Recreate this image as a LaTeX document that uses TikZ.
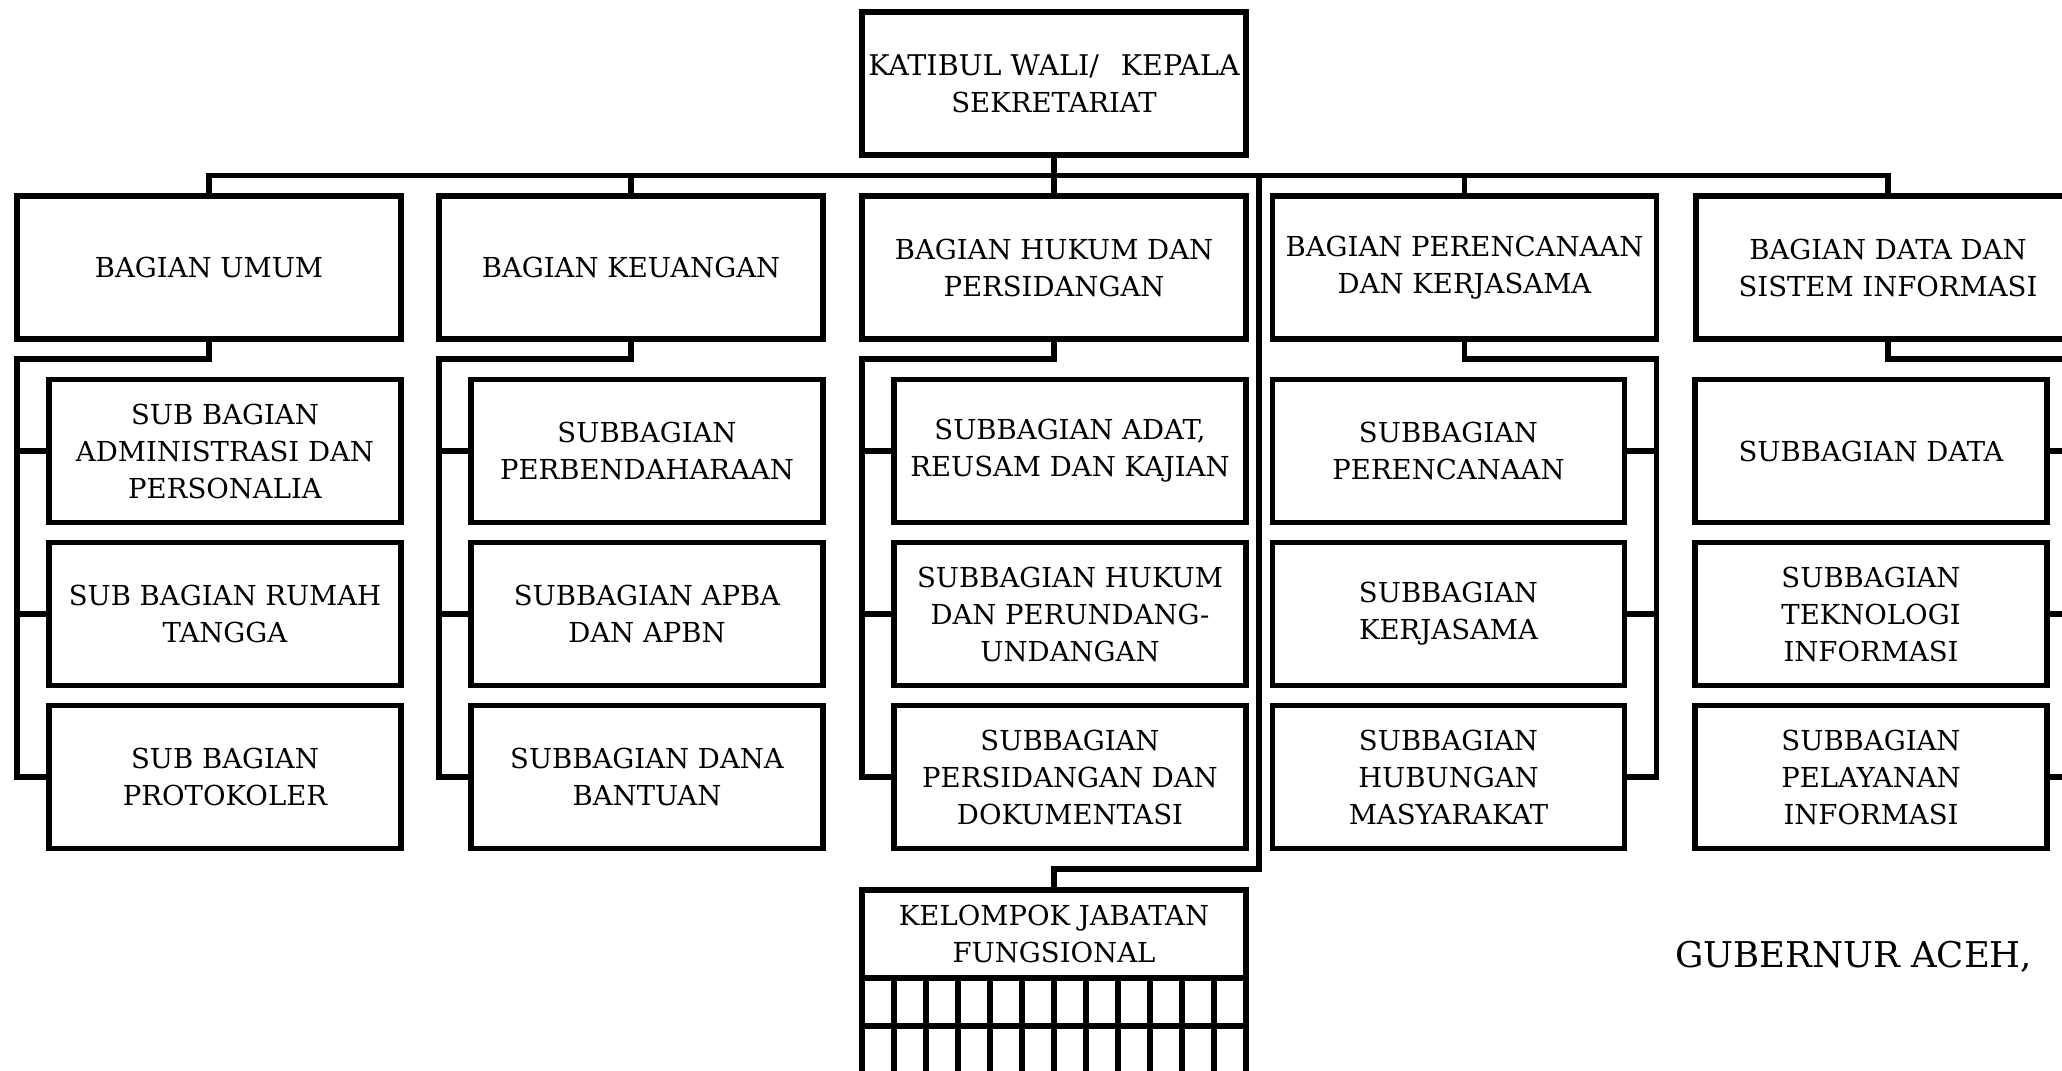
\documentclass[tikz,border=0pt]{standalone}
\usepackage{fontspec}
\setmainfont{DejaVu Serif}
\usetikzlibrary{calc}
\begin{document}
\begin{tikzpicture}[x=1pt,y=-1pt,
  ln/.style={line width=5.3pt, line join=miter},
  box/.style={draw, line width=5.3pt, align=center, inner sep=0pt, outer sep=0pt,
    font=\fontsize{27.5}{37}\selectfont},
  bagbox/.style={box, minimum width=384pt, minimum height=143pt},
  subbox/.style={box, minimum width=352pt, minimum height=142.5pt}]
\useasboundingbox (0,0) rectangle (2062,1071);
\clip (0,0) rectangle (2062,1071);

% top
\node[bagbox] (top) at (1054,83.5) {\fontsize{28.5}{38}\selectfont KATIBUL WALI/\hspace{22pt}KEPALA\\SEKRETARIAT};

% bagian
\node[bagbox] (b1) at (209,267.5) {BAGIAN UMUM};
\node[bagbox] (b2) at (631,267.5) {BAGIAN KEUANGAN};
\node[bagbox] (b3) at (1054,267.5) {BAGIAN HUKUM DAN\\PERSIDANGAN};
\node[bagbox] (b4) at (1464.5,267.5) {BAGIAN PERENCANAAN\\DAN KERJASAMA};
\node[bagbox] (b5) at (1888,267.5) {BAGIAN DATA DAN\\SISTEM INFORMASI};

% sub column 1
\node[subbox] (s11) at (225,451) {SUB BAGIAN\\ADMINISTRASI DAN\\PERSONALIA};
\node[subbox] (s12) at (225,614) {SUB BAGIAN RUMAH\\TANGGA};
\node[subbox] (s13) at (225,777) {SUB BAGIAN\\PROTOKOLER};
% sub column 2
\node[subbox] (s21) at (647,451) {SUBBAGIAN\\PERBENDAHARAAN};
\node[subbox] (s22) at (647,614) {SUBBAGIAN APBA\\DAN APBN};
\node[subbox] (s23) at (647,777) {SUBBAGIAN DANA\\BANTUAN};
% sub column 3
\node[subbox] (s31) at (1070,451) {SUBBAGIAN ADAT,\\REUSAM DAN KAJIAN};
\node[subbox] (s32) at (1070,614) {SUBBAGIAN HUKUM\\DAN PERUNDANG-\\UNDANGAN};
\node[subbox] (s33) at (1070,777) {SUBBAGIAN\\PERSIDANGAN DAN\\DOKUMENTASI};
% sub column 4
\node[subbox] (s41) at (1448.5,451) {SUBBAGIAN\\PERENCANAAN};
\node[subbox] (s42) at (1448.5,614) {SUBBAGIAN\\KERJASAMA};
\node[subbox] (s43) at (1448.5,777) {SUBBAGIAN\\HUBUNGAN\\MASYARAKAT};
% sub column 5
\node[subbox] (s51) at (1871,451) {SUBBAGIAN DATA};
\node[subbox] (s52) at (1871,614) {SUBBAGIAN\\TEKNOLOGI\\INFORMASI};
\node[subbox] (s53) at (1871,777) {SUBBAGIAN\\PELAYANAN\\INFORMASI};

% kelompok jabatan fungsional
\node[box, minimum width=384pt, minimum height=88pt] (kjf) at (1054,934) {KELOMPOK JABATAN\\FUNGSIONAL};

\node[anchor=base west, inner sep=0pt, font=\fontsize{35.5}{40}\selectfont] (gub) at (1675,967) {GUBERNUR ACEH,};

% bus
\coordinate (bus) at (0,175.5);
\coordinate (lvl) at (0,359);
\draw[ln] (top.south) -- (b3.north);
\draw[ln] (b1.north) -- (b1.north |- bus) -- (b5.north |- bus) -- (b5.north);
\draw[ln] (b2.north) -- (b2.north |- bus);
\draw[ln] (b4.north) -- (b4.north |- bus);

% left brackets
\foreach \c in {1,2,3}{
  \draw[ln] (b\c.south) -- (b\c.south |- lvl) -- (b\c.south west |- lvl)
     -- (b\c.south west |- s\c3.west) -- (s\c3.west);
  \draw[ln] (b\c.south west |- s\c1.west) -- (s\c1.west);
  \draw[ln] (b\c.south west |- s\c2.west) -- (s\c2.west);
}
% right brackets
\foreach \c in {4,5}{
  \draw[ln] (b\c.south) -- (b\c.south |- lvl) -- (b\c.south east |- lvl)
     -- (b\c.south east |- s\c3.east) -- (s\c3.east);
  \draw[ln] (b\c.south east |- s\c1.east) -- (s\c1.east);
  \draw[ln] (b\c.south east |- s\c2.east) -- (s\c2.east);
}

% separate line to kelompok
\coordinate (sepTop) at (1259,175.5);
\coordinate (sepBot) at (1259,869);
\draw[ln] (sepTop) -- (sepBot) -| (kjf.north);

% grid under kelompok
\foreach \i in {0,...,12}{
  \draw[ln] ($(kjf.south west)+(32*\i,0)$) -- ++(0,110);
}
\draw[ln] ($(kjf.south west)+(0,48)$) -- ($(kjf.south east)+(0,48)$);
\end{tikzpicture}
\end{document}
